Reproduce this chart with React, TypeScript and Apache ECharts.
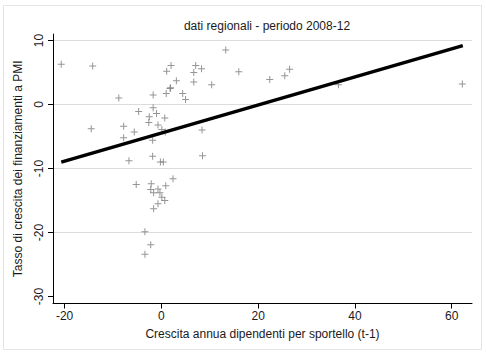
import React, { useEffect, useRef } from "react";
import * as echarts from "echarts";

const titleText = "dati regionali - periodo 2008-12";
const xName = "Crescita annua dipendenti per sportello (t-1)";
const yName = "Tasso di crescita dei finanziamenti a PMI";

const xTicks = [-20, 0, 20, 40, 60];
const yTicks = [-30, -20, -10, 0, 10];

const xVals = [
  -20.7, -14.2, -8.8, -14.5, -7.8, -7.8, -5.6, -4.7, -6.7, -1.7,
  -1.7, -2.5, -1.0, 0.7, -2.6, -0.7, 0.1, 0.8, -1.8, 1.1,
  2.0, 3.1, 1.8, 1.9, 1.0, 4.4, 5.0, 6.7, 7.1, 8.3,
  6.7, 10.4, 13.3, 16.0, 22.4, 25.5, 26.5, 36.6, 62.2, 8.4,
  8.5, -1.8, -0.2, 0.4, 2.4, -5.2, -2.1, 0.9, -2.2, -1.6,
  -0.7, -0.3, 0.1, 0.7, -0.7, -1.6, -3.4, -2.2, -3.4,
];
const yVals = [
  6.3, 6.0, 1.0, -3.8, -3.4, -5.2, -4.3, -1.1, -8.8, 1.5,
  -0.5, -1.9, -1.4, -2.1, -2.8, -3.2, -3.9, -4.3, -5.6, 5.2,
  6.1, 3.7, 2.5, 2.6, 1.7, 1.7, 0.8, 5.0, 6.1, 5.6,
  3.5, 3.1, 8.5, 5.1, 3.9, 4.5, 5.5, 3.1, 3.2, -4.0,
  -8.0, -8.1, -9.0, -9.0, -11.6, -12.5, -12.4, -12.7, -13.3, -13.8,
  -13.2, -13.8, -14.5, -15.0, -15.5, -16.3, -19.9, -21.9, -23.4,
];

const fitX = [-20.7, 62.3];
const fitY = [-9.0, 9.2];

const X_MIN = -22.4;
const X_MAX = 64.2;

const FONT = "'Liberation Sans', Arial, sans-serif";
const PLUS = "path://M3,0L4,0L4,3L7,3L7,4L4,4L4,7L3,7L3,4L0,4L0,3L3,3Z";

export default function App() {
  const ref = useRef<HTMLDivElement>(null);
  useEffect(() => {
    document.body.style.margin = "0";
    if (!ref.current) return;
    const chart = echarts.init(ref.current, undefined, { renderer: "svg" });
    const points = xVals.map((x, i) => [x, yVals[i]]);
    const fit = fitX.map((x, i) => [x, fitY[i]]);
    chart.setOption({
      animation: false,
      backgroundColor: "#ffffff",
      textStyle: { fontFamily: FONT },
      title: {
        text: titleText,
        left: 262,
        top: 15,
        textAlign: "center",
        textStyle: { fontFamily: FONT, fontSize: 12, fontWeight: "normal", color: "#1a1a1a" },
      },
      graphic: [
        {
          type: "rect",
          shape: { x: 3.5, y: 5.5, width: 478, height: 344 },
          style: { fill: "none", stroke: "#e4e4e4", lineWidth: 1 },
          silent: true,
        },
      ],
      grid: { left: 53, right: 14, top: 34.1, bottom: 50.46, containLabel: false },
      xAxis: {
        type: "value",
        min: X_MIN,
        max: X_MAX,
        name: xName,
        nameLocation: "middle",
        nameGap: 24,
        nameTextStyle: { fontFamily: FONT, fontSize: 12, color: "#1a1a1a" },
        axisLine: { show: true, onZero: false, lineStyle: { color: "#000", width: 1 } },
        axisTick: { show: true, length: 5, customValues: xTicks, lineStyle: { color: "#000" } },
        axisLabel: { customValues: xTicks, fontSize: 12, margin: 6, color: "#1a1a1a", fontFamily: FONT },
        splitLine: { show: false },
      },
      yAxis: {
        type: "value",
        min: -31.1,
        max: 11,
        name: yName,
        nameLocation: "middle",
        nameGap: 29,
        nameRotate: 90,
        nameTextStyle: { fontFamily: FONT, fontSize: 12, color: "#1a1a1a" },
        axisLine: { show: true, onZero: false, lineStyle: { color: "#000", width: 1 } },
        axisTick: { show: true, length: 5, customValues: yTicks, lineStyle: { color: "#000" } },
        axisLabel: { customValues: yTicks, fontSize: 12, margin: 8, rotate: 90, color: "#1a1a1a", fontFamily: FONT },
        splitLine: {
          show: true,
          showMinLine: false,
          showMaxLine: true,
          lineStyle: { color: "#dcdcdc", width: 1, type: "solid" },
        },
      },
      series: [
        {
          type: "scatter",
          data: points,
          symbol: PLUS,
          symbolSize: 7,
          itemStyle: { color: "#7a7a7a" },
          z: 3,
        },
        {
          type: "line",
          data: fit,
          symbol: "none",
          lineStyle: { color: "#000", width: 3.5 },
          z: 4,
        },
      ],
    });
    return () => chart.dispose();
  }, []);
  return <div ref={ref} style={{ width: 486, height: 354 }} />;
}
